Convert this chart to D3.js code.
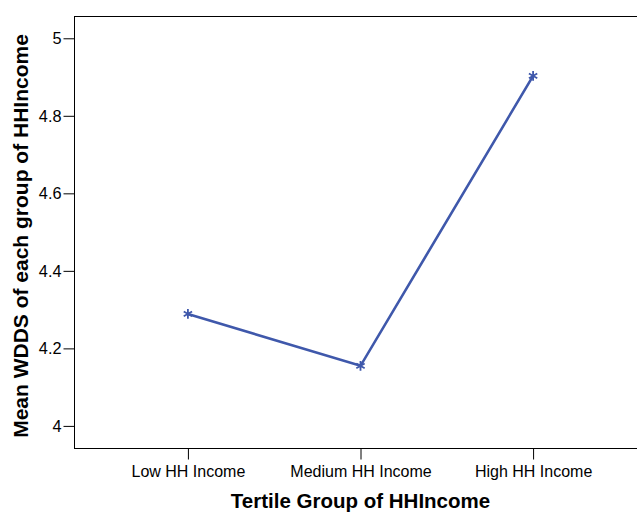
<!DOCTYPE html>
<html><head><meta charset="utf-8">
<script src="https://cdn.jsdelivr.net/npm/d3@7"></script>
<style>html,body{margin:0;padding:0;background:#fff;}</style>
</head><body>
<svg id="chart" width="637" height="512"></svg>
<script>
const categories = ["Low HH Income", "Medium HH Income", "High HH Income"];
const meanWDDS = [4.289, 4.155, 4.903];
const yTicks = [4, 4.2, 4.4, 4.6, 4.8, 5];
const yTickLabels = ["4", "4.2", "4.4", "4.6", "4.8", "5"];
const xTitle = "Tertile Group of HHIncome";
const yTitle = "Mean WDDS of each group of HHIncome";

const svg = d3.select("#chart");
const pLeft = 74, pRight = 647, pTop = 16, pBottom = 448;
const font = "Arial, 'Liberation Sans', sans-serif";
const color = "#3f58ab";

const x = d3.scalePoint().domain(categories).range([pLeft, pRight]).padding(0.66);
const y = d3.scaleLinear().domain([3.943, 5.0575]).range([pBottom, pTop]);

// frame
svg.append("rect").attr("x", pLeft + 0.5).attr("y", pTop + 0.5)
  .attr("width", pRight - pLeft).attr("height", pBottom - pTop)
  .attr("fill", "none").attr("stroke", "#000").attr("stroke-width", 1);

// y axis
const yAxis = svg.append("g").attr("transform", `translate(${pLeft + 0.5},0)`)
  .call(d3.axisLeft(y).tickValues(yTicks).tickFormat((d, i) => yTickLabels[i]).tickSize(11).tickPadding(2));
yAxis.select(".domain").remove();
yAxis.selectAll("text").attr("font-family", font).attr("font-size", 16.3).attr("fill", "#000");
yAxis.selectAll("line").attr("stroke", "#000");

// x axis
const xAxis = svg.append("g").attr("transform", `translate(0,${pBottom + 0.5})`)
  .call(d3.axisBottom(x).tickSize(11).tickPadding(6));
xAxis.select(".domain").remove();
xAxis.selectAll("text").attr("font-family", font).attr("font-size", 16).attr("fill", "#000");
xAxis.selectAll("line").attr("stroke", "#000");

// line
const data = categories.map((c, i) => ({c, v: meanWDDS[i]}));
svg.append("path").datum(data)
  .attr("fill", "none").attr("stroke", color).attr("stroke-width", 2.6)
  .attr("d", d3.line().x(d => x(d.c)).y(d => y(d.v)));

// markers
svg.selectAll(".mk").data(data).enter().append("path")
  .attr("class", "mk")
  .attr("transform", d => `translate(${x(d.c)},${y(d.v)})`)
  .attr("d", d3.symbol().type(d3.symbolAsterisk).size(65))
  .attr("fill", "none").attr("stroke", color).attr("stroke-width", 1.8);

// titles
svg.append("text").attr("x", (pLeft + pRight) / 2).attr("y", 508)
  .attr("text-anchor", "middle").attr("font-family", font).attr("font-weight", "bold")
  .attr("font-size", 20.5).attr("fill", "#000").text(xTitle);

svg.append("text").attr("transform", `translate(27.5,236) rotate(-90)`)
  .attr("text-anchor", "middle").attr("font-family", font).attr("font-weight", "bold")
  .attr("font-size", 21).attr("fill", "#000").text(yTitle);
</script>
</body></html>
